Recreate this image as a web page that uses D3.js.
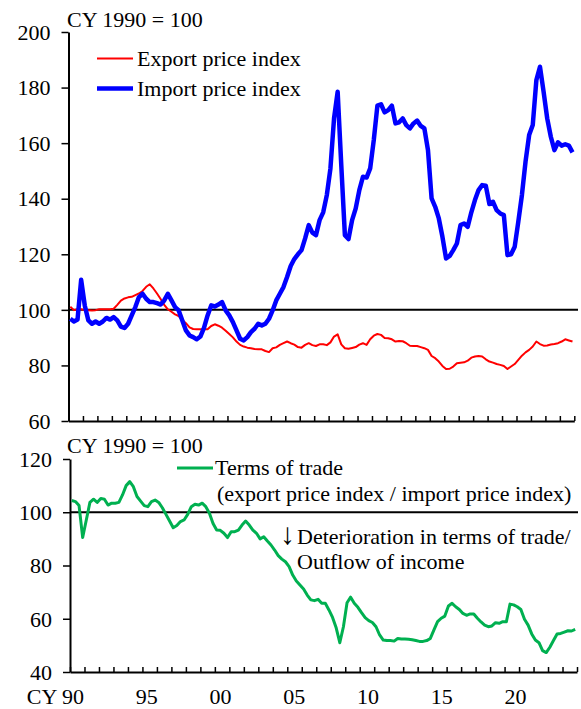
<!DOCTYPE html>
<html>
<head>
<meta charset="utf-8">
<script src="https://cdn.jsdelivr.net/npm/d3@7/dist/d3.min.js"></script>
<style>
  body { margin: 0; background: #fff; }
  svg text { font-family: "Liberation Serif", "Times New Roman", serif; fill: #000; }
</style>
</head>
<body>
<div id="chart"></div>
<script>
'use strict';

// quarterly data, CY1990 Q1 .. CY2024 Q4 (CY 1990 = 100)
const startYear = 1990;

const exportPrice = [
  101.1, 99.9, 100.2, 100.2, 99.9, 99.9, 99.8, 99.9, 100.2, 100.2,
  100.2, 100.2, 100.4, 101.8, 103.3, 104.1, 104.5, 104.7, 105.3, 105.9,
  106.8, 108.3, 109.2, 107.7, 105.9, 103.9, 101.8, 100.2, 99.3, 98.4,
  97.8, 96.3, 95.2, 93.7, 93.1, 93.0, 93.0, 93.0, 93.0, 94.2,
  94.8, 94.3, 93.6, 92.5, 91.3, 90.1, 88.6, 87.4, 86.8, 86.4,
  86.2, 85.9, 85.8, 85.8, 85.2, 84.8, 86.2, 86.5, 87.4, 88.0,
  88.6, 88.0, 87.5, 86.6, 86.4, 87.4, 88.0, 87.3, 87.0, 87.6,
  87.6, 87.3, 88.3, 90.4, 91.2, 87.6, 86.2, 86.0, 86.3, 86.6,
  87.5, 88.0, 87.4, 89.4, 90.7, 91.3, 91.0, 89.9, 89.8, 89.4,
  88.6, 88.8, 88.7, 88.0, 87.1, 87.0, 87.0, 86.6, 86.2, 85.6,
  83.4, 82.6, 81.4, 79.8, 78.7, 78.8, 79.6, 80.8, 81.0, 81.1,
  81.7, 82.8, 83.2, 83.4, 83.2, 82.2, 81.4, 81.0, 80.5, 80.2,
  79.8, 78.7, 79.6, 80.5, 82.0, 83.5, 84.7, 85.6, 86.8, 88.6,
  87.7, 87.1, 87.2, 87.5, 87.7, 88.0, 88.6, 89.4, 89.0, 88.6
];

const importPrice = [
  96.8, 95.8, 96.5, 110.8, 101.6, 96.2, 95.0, 95.8, 95.0, 95.8,
  97.1, 96.5, 97.4, 96.2, 94.0, 93.5, 95.0, 98.0, 101.0, 104.6,
  105.8, 104.0, 102.8, 102.8, 102.4, 101.9, 103.4, 105.8, 103.4, 101.0,
  99.8, 96.2, 92.6, 90.8, 90.2, 89.4, 90.4, 93.5, 98.0, 101.6,
  101.2, 101.9, 102.8, 99.8, 98.0, 95.6, 92.6, 89.6, 89.0, 90.2,
  92.0, 93.2, 95.0, 94.4, 95.0, 96.8, 99.8, 103.4, 105.8, 108.2,
  111.8, 115.8, 118.3, 120.0, 121.5, 125.7, 130.5, 127.8, 126.9, 132.3,
  135.1, 141.3, 150.9, 168.9, 178.5, 152.1, 126.9, 125.5, 132.3, 136.5,
  143.1, 147.9, 147.6, 150.9, 161.1, 173.5, 174.0, 171.1, 171.9, 173.5,
  167.1, 167.5, 168.9, 166.5, 165.3, 167.1, 168.1, 166.2, 165.3, 157.5,
  140.1, 137.1, 132.9, 126.3, 118.5, 119.4, 121.5, 123.9, 130.5, 131.1,
  129.9, 135.1, 139.5, 143.1, 144.9, 144.7, 138.1, 138.9, 135.9, 134.7,
  134.1, 119.7, 120.0, 122.7, 131.7, 141.3, 153.3, 162.9, 166.5, 182.7,
  187.5, 178.5, 168.9, 162.3, 157.5, 160.3, 159.1, 159.6, 159.1, 156.7
];

const termsOfTrade = [
  104.4, 104.0, 102.5, 90.5, 97.1, 103.7, 104.9, 103.7, 105.2, 104.9,
  102.7, 103.4, 103.4, 103.7, 106.5, 110.0, 111.5, 109.6, 105.9, 104.2,
  102.5, 102.1, 104.0, 104.6, 103.7, 101.7, 99.2, 96.7, 94.2, 95.0,
  96.5, 97.1, 99.2, 102.1, 103.0, 102.7, 103.4, 102.1, 99.6, 95.8,
  93.3, 93.2, 92.1, 90.5, 92.7, 92.7, 93.3, 95.2, 96.7, 95.2,
  93.3, 92.1, 90.0, 90.8, 89.2, 87.7, 85.8, 83.7, 82.4, 81.4,
  79.6, 76.4, 74.2, 72.7, 71.2, 68.9, 67.1, 66.8, 67.3, 65.8,
  65.8, 63.3, 60.5, 56.6, 51.0, 57.0, 66.0, 68.1, 65.8, 64.3,
  62.3, 60.4, 59.3, 58.6, 57.0, 53.9, 52.0, 51.8, 51.8, 51.6,
  52.6, 52.4, 52.4, 52.3, 52.1, 51.8, 51.5, 51.5, 51.8, 52.6,
  55.8, 58.9, 60.2, 61.0, 64.8, 65.8, 64.5, 63.5, 62.0, 61.3,
  61.8, 61.8, 60.2, 58.8, 57.6, 57.0, 57.3, 58.5, 58.3, 58.9,
  58.9, 65.5, 65.2, 64.5, 63.5, 59.8, 57.6, 54.3, 52.0, 51.0,
  48.0, 47.3, 49.3, 51.8, 54.3, 54.5, 55.0, 55.5, 55.4, 56.0
];

const topTicks = [60, 80, 100, 120, 140, 160, 180, 200];
const bottomTicks = [40, 60, 80, 100, 120];
const labelYears = [1990, 1995, 2000, 2005, 2010, 2015, 2020];
const labelText = ['CY 90', '95', '00', '05', '10', '15', '20'];

const width = 581, height = 709;
const fontSize = 22;
const serif = '"Liberation Serif", "Times New Roman", serif';

const svg = d3.select('#chart').append('svg')
  .attr('width', width)
  .attr('height', height);

// quarter centre on the year axis
const qx = i => startYear + i / 4 + 0.125;

const xTop = d3.scaleLinear().domain([1990, 2025]).range([68.5, 574.3]);
const yTop = d3.scaleLinear().domain([60, 200]).range([421, 32]);
const xBot = d3.scaleLinear().domain([1990, 2025]).range([70, 577]);
const yBot = d3.scaleLinear().domain([40, 120]).range([672, 459]);
// year labels sit on their own spacing in the original
const xLabel = d3.scaleLinear().domain([1990, 2020]).range([73, 515.5]);

function drawYAxis(scale, ticks, x0) {
  const g = svg.append('g')
    .attr('transform', `translate(${x0},0)`)
    .call(d3.axisLeft(scale).tickValues(ticks).tickSize(7).tickPadding(11).tickSizeOuter(0))
    .attr('font-family', serif)
    .attr('font-size', fontSize);
  g.select('.domain').attr('stroke', '#000').attr('stroke-width', 2);
  g.selectAll('.tick line').attr('stroke', '#000').attr('stroke-width', 1.5);
  g.selectAll('.tick text').attr('dy', '0.33em');
  return g;
}

function drawXAxis(scale, y0) {
  const g = svg.append('g')
    .attr('transform', `translate(0,${y0})`)
    .call(d3.axisBottom(scale).tickValues(d3.range(1990, 2026)).tickSize(-5)
      .tickFormat('').tickSizeOuter(0));
  g.select('.domain').attr('stroke', '#000').attr('stroke-width', 2.2);
  g.selectAll('.tick line').attr('stroke', '#000').attr('stroke-width', 1.5);
  return g;
}

function label(x, y, text) {
  return svg.append('text')
    .attr('x', x).attr('y', y)
    .style('font-size', fontSize + 'px')
    .text(text);
}

// ---- top panel ----
drawXAxis(xTop, 421);
drawYAxis(yTop, topTicks, 68.5);

svg.append('line')
  .attr('x1', xTop(1990)).attr('x2', 578)
  .attr('y1', yTop(100)).attr('y2', yTop(100))
  .attr('stroke', '#000').attr('stroke-width', 2);

const lineTop = d3.line()
  .x((d, i) => xTop(qx(i)))
  .y(d => yTop(d));

svg.append('path')
  .datum(exportPrice)
  .attr('d', lineTop)
  .attr('fill', 'none')
  .attr('stroke', '#ff0000')
  .attr('stroke-width', 2)
  .attr('stroke-linejoin', 'round');

svg.append('path')
  .datum(importPrice)
  .attr('d', lineTop)
  .attr('fill', 'none')
  .attr('stroke', '#0000ff')
  .attr('stroke-width', 4.5)
  .attr('stroke-linejoin', 'round');

label(67, 27, 'CY 1990 = 100');

// legend
svg.append('line')
  .attr('x1', 97).attr('x2', 133).attr('y1', 58.5).attr('y2', 58.5)
  .attr('stroke', '#ff0000').attr('stroke-width', 2);
label(137, 65.5, 'Export price index');
svg.append('line')
  .attr('x1', 97).attr('x2', 133).attr('y1', 88.5).attr('y2', 88.5)
  .attr('stroke', '#0000ff').attr('stroke-width', 4.5);
label(137, 95.5, 'Import price index');

// ---- bottom panel ----
drawXAxis(xBot, 672);
drawYAxis(yBot, bottomTicks, 70);

svg.append('line')
  .attr('x1', xBot(1990)).attr('x2', 578)
  .attr('y1', yBot(100)).attr('y2', yBot(100))
  .attr('stroke', '#000').attr('stroke-width', 1.8);

const lineBot = d3.line()
  .x((d, i) => xBot(qx(i)))
  .y(d => yBot(d));

svg.append('path')
  .datum(termsOfTrade)
  .attr('d', lineBot)
  .attr('fill', 'none')
  .attr('stroke', '#00b050')
  .attr('stroke-width', 3)
  .attr('stroke-linejoin', 'round');

label(67, 453, 'CY 1990 = 100');

svg.append('line')
  .attr('x1', 177).attr('x2', 213).attr('y1', 468).attr('y2', 468)
  .attr('stroke', '#00b050').attr('stroke-width', 3);
label(215, 475, 'Terms of trade');
label(217, 501, '(export price index / import price index)');

const det = label(280, 544, '');
det.append('tspan').style('font-size', '30px').text('\u2193');
det.append('tspan').attr('x', 297).text('Deterioration in terms of trade/');
label(297, 569, 'Outflow of income');

// year labels under the bottom axis
svg.append('g')
  .selectAll('text')
  .data(labelYears)
  .join('text')
  .attr('x', (d, i) => i === 0 ? xLabel(d) + 11 : xLabel(d))
  .attr('y', 704)
  .attr('text-anchor', (d, i) => i === 0 ? 'end' : 'middle')
  .style('font-size', fontSize + 'px')
  .text((d, i) => labelText[i]);
</script>
</body>
</html>
